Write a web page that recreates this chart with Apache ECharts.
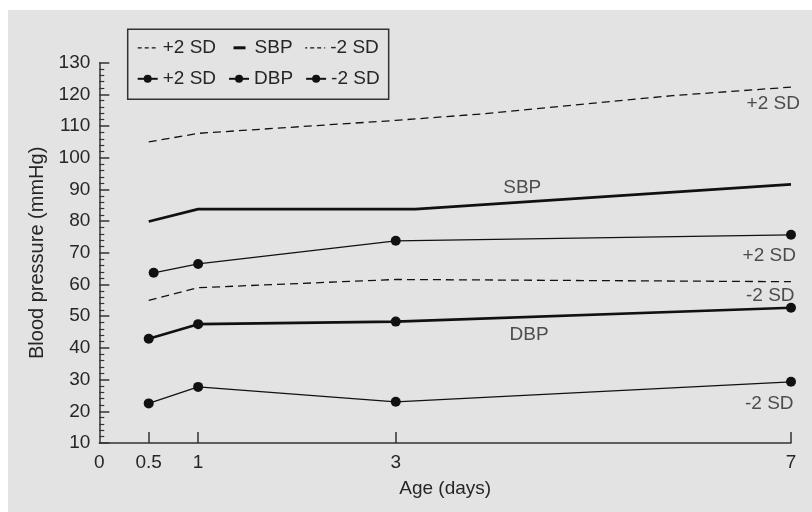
<!DOCTYPE html>
<html>
<head>
<meta charset="utf-8">
<script src="https://cdn.jsdelivr.net/npm/echarts@6/dist/echarts.min.js"></script>
<style>
  html, body { margin: 0; padding: 0; background: #ffffff; }
  #chart { position: absolute; left: 8px; top: 10px; width: 804px; height: 502px; }
</style>
</head>
<body>
<div id="chart"></div>
<script>
// ---- data ----
const xTickValues = [0.5, 1, 3, 7];
const xLabelValues = [0, 0.5, 1, 3, 7];

const sbpPlus2Age = [0.5, 1, 3, 3.9, 5.8, 7];
const sbpPlus2 = [105, 107.7, 111.8, 113.9, 119.6, 122.3];

const sbpAge = [0.5, 1, 3.2, 7];
const sbp = [79.9, 83.8, 83.8, 91.6];

const sbpMinus2Age = [0.5, 1, 3, 7];
const sbpMinus2 = [55, 59, 61.6, 60.9];

const dbpPlus2Age = [0.55, 1, 3, 7];
const dbpPlus2 = [63.7, 66.5, 73.8, 75.7];

const dbpAge = [0.5, 1, 3, 7];
const dbp = [42.9, 47.5, 48.3, 52.7];

const dbpMinus2Age = [0.5, 1, 3, 7];
const dbpMinus2 = [22.5, 27.7, 23, 29.3];

// in-plot annotation labels: [age, value, text]
const annotations = [
  [6.82, 117.0, '+2 SD'],
  [4.28, 90.6, 'SBP'],
  [6.78, 69.1, '+2 SD'],
  [6.79, 56.5, '-2 SD'],
  [4.35, 44.3, 'DBP'],
  [6.78, 22.3, '-2 SD']
];

const seriesNames = ['SBP +2 SD', 'SBP', 'SBP -2 SD', 'DBP +2 SD', 'DBP', 'DBP -2 SD'];

function pairs(xs, ys) { return xs.map((x, i) => [x, ys[i]]); }

const FONT = 'Liberation Sans';
const FS = 19;
const TXT = '#262626';
const LINE = '#111';

const chart = echarts.init(document.getElementById('chart'), null, { renderer: 'canvas' });

const dashed = { color: LINE, width: 1.3, type: [8, 5] };
const legendDash = { color: LINE, width: 1.3, type: [4, 3] };

chart.setOption({
  backgroundColor: '#e3e3e3',
  animation: false,
  textStyle: { fontFamily: FONT },
  grid: { left: 91.3, right: 21, top: 52.7, bottom: 69 },
  legend: {
    left: 119.7,
    top: 19.3,
    width: 250,
    orient: 'horizontal',
    itemWidth: 20,
    itemHeight: 10,
    itemGap: 12,
    padding: [9, 9, 11, 9],
    borderColor: '#333',
    borderWidth: 1.5,
    backgroundColor: 'transparent',
    selectedMode: false,
    textStyle: { fontFamily: FONT, fontSize: FS, color: TXT, lineHeight: 15 },
    formatter: function (name) { return name === 'SBP' || name === 'DBP' ? name : name.replace(/^(SBP|DBP) /, ''); },
    data: [
      { name: 'SBP +2 SD', itemStyle: { opacity: 0 }, lineStyle: legendDash },
      { name: 'SBP', itemStyle: { opacity: 0 }, lineStyle: { color: LINE, width: 3, type: [12, 8], dashOffset: 16 } },
      { name: 'SBP -2 SD', itemStyle: { opacity: 0 }, lineStyle: legendDash },
      { name: 'DBP +2 SD' },
      { name: 'DBP' },
      { name: 'DBP -2 SD' }
    ]
  },
  xAxis: {
    type: 'value',
    min: 0,
    max: 7,
    name: 'Age (days)',
    nameLocation: 'middle',
    nameGap: 36,
    nameTextStyle: { fontFamily: FONT, fontSize: FS, color: TXT },
    splitLine: { show: false },
    axisLine: { show: true, onZero: false, lineStyle: { color: '#333', width: 1.5 } },
    axisTick: { show: true, inside: true, length: 11, customValues: xTickValues, lineStyle: { color: '#333', width: 1.5 } },
    axisLabel: { customValues: xLabelValues, margin: 10, fontFamily: FONT, fontSize: FS, color: TXT }
  },
  yAxis: {
    type: 'value',
    min: 10,
    max: 130,
    interval: 10,
    name: 'Blood pressure (mmHg)',
    nameLocation: 'middle',
    nameGap: 47,
    nameTextStyle: { fontFamily: FONT, fontSize: 20, color: TXT },
    splitLine: { show: false },
    axisLine: { show: true, lineStyle: { color: '#333', width: 1.5 } },
    axisTick: { show: true, inside: true, length: 10, lineStyle: { color: '#333', width: 1.5 } },
    minorTick: { show: true, splitNumber: 5, length: 5, lineStyle: { color: '#333', width: 1.2 } },
    axisLabel: { margin: 9, fontFamily: FONT, fontSize: FS, color: TXT }
  },
  series: [
    { name: seriesNames[0], type: 'line', data: pairs(sbpPlus2Age, sbpPlus2), symbol: 'none', lineStyle: dashed, itemStyle: { color: LINE } },
    { name: seriesNames[1], type: 'line', data: pairs(sbpAge, sbp), symbol: 'none', lineStyle: { color: LINE, width: 2.6 }, itemStyle: { color: LINE } },
    { name: seriesNames[2], type: 'line', data: pairs(sbpMinus2Age, sbpMinus2), symbol: 'none', lineStyle: dashed, itemStyle: { color: LINE } },
    { name: seriesNames[3], type: 'line', data: pairs(dbpPlus2Age, dbpPlus2), symbol: 'circle', symbolSize: 10, lineStyle: { color: LINE, width: 1.3 }, itemStyle: { color: LINE } },
    { name: seriesNames[4], type: 'line', data: pairs(dbpAge, dbp), symbol: 'circle', symbolSize: 10, lineStyle: { color: LINE, width: 2.6 }, itemStyle: { color: LINE } },
    { name: seriesNames[5], type: 'line', data: pairs(dbpMinus2Age, dbpMinus2), symbol: 'circle', symbolSize: 10, lineStyle: { color: LINE, width: 1.3 }, itemStyle: { color: LINE } },
    {
      name: 'annotations',
      type: 'scatter',
      data: annotations,
      symbolSize: 1,
      clip: false,
      itemStyle: { color: 'rgba(0,0,0,0)' },
      label: {
        show: true,
        position: 'inside',
        formatter: function (p) { return p.data[2]; },
        fontFamily: FONT,
        fontSize: FS,
        color: TXT
      },
      tooltip: { show: false },
      silent: true
    }
  ]
});
</script>
</body>
</html>
